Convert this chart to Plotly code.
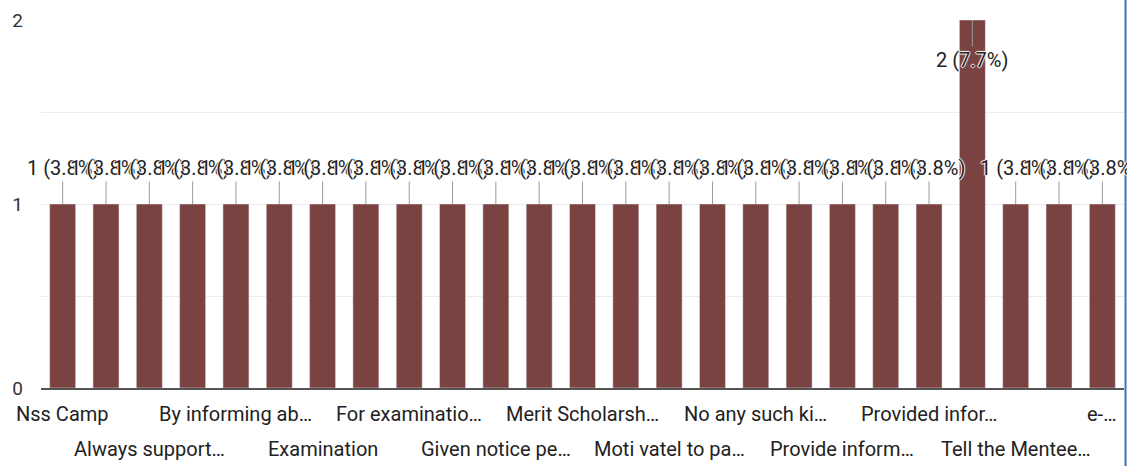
import plotly.graph_objects as go

categories = [
    "Nss Camp", "All information given", "Always support…", "Attendance related",
    "By informing ab…", "By WhatsApp group", "Examination", "Examination form",
    "For examinatio…", "Gave information", "Given notice pe…", "Guidance for study",
    "Merit Scholarsh…", "Mobile message", "Moti vatel to pa…", "Motivated for study",
    "No any such ki…", "Online lectures", "Provide inform…", "Provide notes",
    "Provided infor…", "Scholarship", "Tell the Mentee…", "Yes", "e-…",
]
values = [1, 1, 1, 1, 1, 1, 1, 1, 1, 1, 1, 1, 1, 1, 1, 1, 1, 1, 1, 1, 1, 2, 1, 1, 1]
# labels shown under the axis (every other category), alternating two rows
tick_labels = {
    0: "Nss Camp", 2: "Always support…", 4: "By informing ab…", 6: "Examination",
    8: "For examinatio…", 10: "Given notice pe…", 12: "Merit Scholarsh…",
    14: "Moti vatel to pa…", 16: "No any such ki…", 18: "Provide inform…",
    20: "Provided infor…", 22: "Tell the Mentee…", 24: "e-…",
}
y_ticks = [0, 0.5, 1, 1.5, 2]
y_tick_text = ["0", "", "1", "", "2"]

total = sum(values)
BAR = "#7b4242"
FONT = "Roboto"
halo = "1px 0 1px #fff, -1px 0 1px #fff, 0 1px 1px #fff, 0 -1px 1px #fff"

fig = go.Figure(go.Bar(x=categories, y=values, marker_color=BAR, hoverinfo="skip"))

ann = []
ymax = max(values)
for c, v in zip(categories, values):
    inside = v == ymax
    ann.append(dict(
        x=c, y=v, xref="x", yref="y",
        text=f"{v} ({v / total * 100:.1f}%)",
        showarrow=True, arrowhead=0, arrowwidth=1, arrowcolor="#9a9a9a",
        ax=0, ay=40 if inside else -36,
        font=dict(family=FONT, size=20, color="#222222", shadow=halo),
    ))
for i, (idx, t) in enumerate(tick_labels.items()):
    ann.append(dict(
        x=categories[idx], y=0, xref="x", yref="paper",
        text=t, showarrow=False, yanchor="middle",
        yshift=-26 if i % 2 == 0 else -61,
        font=dict(family=FONT, size=20, color="#222222"),
    ))

fig.update_layout(
    width=1127, height=466,
    margin=dict(l=41, r=3, t=20, b=78, autoexpand=False),
    paper_bgcolor="white", plot_bgcolor="white",
    bargap=0.4, showlegend=False,
    annotations=ann,
    font=dict(family=FONT, size=18, color="#333333"),
    shapes=[
        dict(type="line", xref="paper", yref="paper", layer="above",
             x0=1.0014, x1=1.0014, y0=-0.3, y1=1.1,
             line=dict(color="#3d72c9", width=2)),
    ],
)
fig.update_xaxes(showticklabels=False, showgrid=False, showline=True,
                 range=[-0.5, len(categories) - 0.5],
                 linecolor="#555555", linewidth=1.5, ticks="", automargin=False)
fig.update_yaxes(range=[0, 2], tickvals=y_ticks, ticktext=y_tick_text,
                 showgrid=True, gridcolor="#ececec", zeroline=False, automargin=False,
                 ticklabelstandoff=17, tickfont=dict(size=19, color="#333333"))

fig.write_html(
    "out.html",
    config={"displayModeBar": False},
    post_script="document.body.style.margin='0';document.body.style.overflow='hidden';",
)
